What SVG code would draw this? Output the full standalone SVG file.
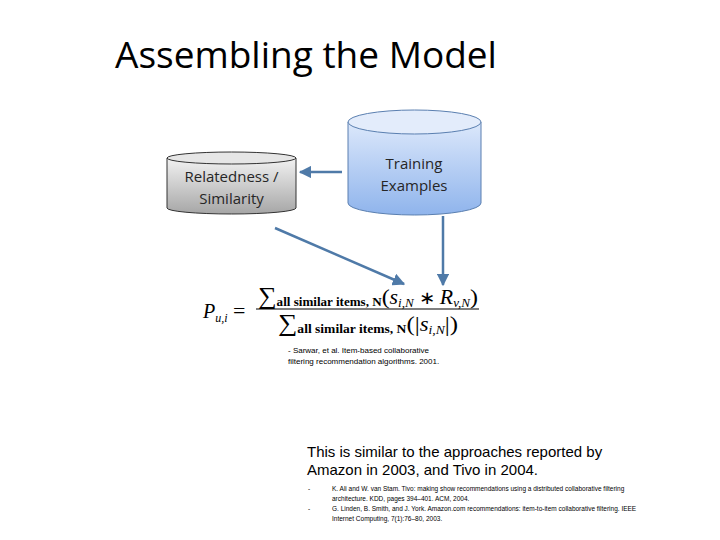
<svg xmlns="http://www.w3.org/2000/svg" width="720" height="540" viewBox="0 0 720 540">
<defs>
<linearGradient id="gg" x1="0" y1="0" x2="0" y2="1"><stop offset="0" stop-color="#f2f2f2"/><stop offset="1" stop-color="#a6a6a6"/></linearGradient>
<linearGradient id="bg" x1="0" y1="0" x2="0" y2="1"><stop offset="0" stop-color="#dce8fb"/><stop offset="1" stop-color="#8fb4ec"/></linearGradient>
<marker id="ah" viewBox="0 0 10 10" refX="9" refY="5" markerWidth="5" markerHeight="5" orient="auto"><path d="M0,0 L10,5 L0,10 z" fill="#4f7aa8"/></marker>
<style>
.lbl{font-family:"Open Sans","Liberation Sans",sans-serif;font-size:15px;fill:#262626;text-anchor:middle}
.con{stroke:#4f7aa8;stroke-width:2.5;fill:none;marker-end:url(#ah)}
.m{font-family:"Liberation Serif",serif;fill:#000}
.s{font-family:"Liberation Sans",sans-serif;fill:#000}
</style>
</defs>
<rect width="720" height="540" fill="#fff"/>
<text x="115" y="68" font-family="Open Sans,Liberation Sans,sans-serif" font-size="37" fill="#000">Assembling the Model</text>
<g id="relatedness">
<path d="M167,158 L167,208 A64.5,6 0 0 0 296,208 L296,158" fill="url(#gg)" stroke="#333" stroke-width="1"/>
<ellipse cx="231.5" cy="158" rx="64.5" ry="6" fill="#e6e6e6" stroke="#333" stroke-width="1"/>
<text class="lbl" x="231.5" y="182">Relatedness /</text>
<text class="lbl" x="231.5" y="204">Similarity</text>
</g>
<g id="training">
<path d="M348,122 L348,203 A66.5,12 0 0 0 481,203 L481,122" fill="url(#bg)" stroke="#5a7fb0" stroke-width="1"/>
<ellipse cx="414.5" cy="122" rx="66.5" ry="12" fill="#e3ecfb" stroke="#5a7fb0" stroke-width="1"/>
<text class="lbl" x="414" y="169">Training</text>
<text class="lbl" x="414" y="191">Examples</text>
</g>
<g id="connectors">
<line class="con" x1="342" y1="172" x2="300" y2="172"/>
<line class="con" x1="275" y1="228" x2="404" y2="284"/>
<line class="con" x1="443" y1="216" x2="443" y2="285"/>
</g>
<g id="formula">
<text class="m" x="203" y="318" font-size="20" font-style="italic">P<tspan font-size="12" dy="4">u,i</tspan></text>
<text class="m" x="233" y="318" font-size="22">=</text>
<text class="m" x="258" y="304" font-size="24" textLength="220" lengthAdjust="spacingAndGlyphs">∑<tspan font-size="12" dy="2" font-weight="bold">all similar items, N</tspan><tspan font-size="22" dy="-2">(</tspan><tspan font-style="italic" font-size="20">s</tspan><tspan font-style="italic" font-size="12" dy="3">i,N</tspan><tspan font-size="18" dy="-3"> ∗ </tspan><tspan font-style="italic" font-size="20">R</tspan><tspan font-style="italic" font-size="12" dy="3">v,N</tspan><tspan font-size="22" dy="-3">)</tspan></text>
<line x1="256" y1="309" x2="479" y2="309" stroke="#000" stroke-width="1.2"/>
<text class="m" x="278" y="331" font-size="24" textLength="180" lengthAdjust="spacingAndGlyphs">∑<tspan font-size="12" dy="2" font-weight="bold">all similar items, N</tspan><tspan font-size="22" dy="-2">(|</tspan><tspan font-style="italic" font-size="20">s</tspan><tspan font-style="italic" font-size="12" dy="3">i,N</tspan><tspan font-size="22" dy="-3">|)</tspan></text>
</g>
<text class="s" x="288" y="353" font-size="8">- Sarwar, et al. Item-based collaborative</text>
<text class="s" x="288" y="364" font-size="8">filtering recommendation algorithms. 2001.</text>
<text class="s" x="307" y="457" font-size="15">This is similar to the approaches reported by</text>
<text class="s" x="307" y="475" font-size="15">Amazon in 2003, and Tivo in 2004.</text>
<g class="s" font-size="6.5">
<text x="308" y="491">-</text>
<text x="332" y="491">K. Ali and W. van Stam. Tivo: making show recommendations using a distributed collaborative filtering</text>
<text x="332" y="501">architecture. KDD, pages 394–401. ACM, 2004.</text>
<text x="308" y="511">-</text>
<text x="332" y="511">G. Linden, B. Smith, and J. York. Amazon.com recommendations: item-to-item collaborative filtering. IEEE</text>
<text x="332" y="521">Internet Computing, 7(1):76–80, 2003.</text>
</g>
</svg>
